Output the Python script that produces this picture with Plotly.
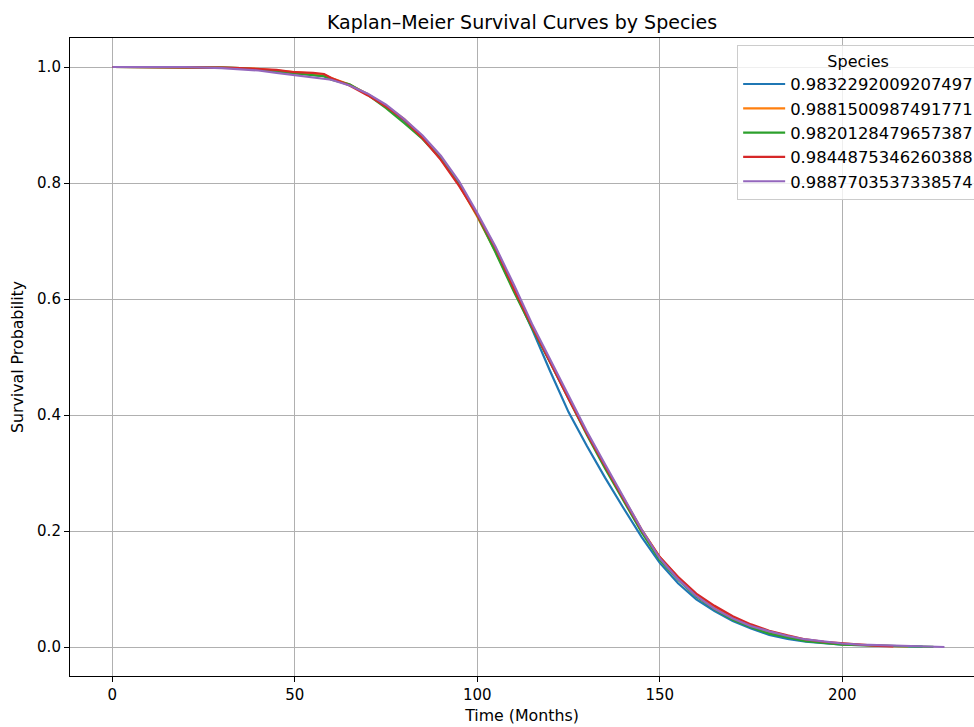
import plotly.graph_objects as go

# Kaplan-Meier survival estimates sampled along the time axis (months)
months = [0, 10, 20, 30, 35, 40, 45, 50, 55, 58, 60, 65, 70, 75, 80, 85, 90, 95,
          100, 105, 110, 115, 120, 125, 130, 135, 140, 145, 150, 155, 160, 165,
          170, 175, 180, 185, 190, 195, 200, 205, 210, 214, 218, 222, 225, 228]

species_labels = ["0.9832292009207497", "0.9881500987491771", "0.9820128479657387",
                  "0.9844875346260388", "0.9887703537338574"]

surv_blue = [1.0, 1.0, 1.0, 0.999, 0.998, 0.996, 0.993, 0.990, 0.987, 0.984, 0.980, 0.969,
             0.953, 0.933, 0.907, 0.877, 0.843, 0.798, 0.745, 0.686, 0.617, 0.548, 0.475,
             0.405, 0.347, 0.292, 0.240, 0.190, 0.145, 0.110, 0.082, 0.062, 0.045, 0.032,
             0.021, 0.014, 0.009, 0.006, 0.004, 0.003, 0.002, 0.0015, 0.001, 0.0005, None, None]
surv_orange = [1.0, 1.0, 1.0, 0.999, 0.998, 0.997, 0.994, 0.991, 0.989, 0.987, 0.981, 0.970,
               0.953, 0.933, 0.910, 0.879, 0.842, 0.797, 0.742, 0.682, 0.615, 0.552, 0.492,
               0.430, 0.370, 0.312, 0.258, 0.203, 0.155, 0.120, 0.090, 0.069, 0.051, 0.037,
               0.026, 0.018, 0.012, 0.008, 0.005, 0.0035, 0.002, 0.0015, 0.001, None, None, None]
surv_green = [1.0, 1.0, 1.0, 0.999, 0.998, 0.996, 0.993, 0.989, 0.986, 0.984, 0.978, 0.970,
              0.952, 0.929, 0.903, 0.876, 0.842, 0.798, 0.744, 0.680, 0.613, 0.550, 0.490,
              0.428, 0.366, 0.308, 0.253, 0.198, 0.150, 0.116, 0.087, 0.065, 0.047, 0.034,
              0.023, 0.016, 0.010, 0.007, 0.004, 0.003, 0.002, 0.0015, 0.001, 0.0007, 0.0003, None]
surv_red = [1.0, 1.0, 1.0, 0.999, 0.998, 0.997, 0.995, 0.991, 0.990, 0.988, 0.981, 0.968,
            0.951, 0.932, 0.909, 0.877, 0.840, 0.795, 0.745, 0.688, 0.618, 0.553, 0.490,
            0.428, 0.368, 0.311, 0.256, 0.202, 0.155, 0.121, 0.092, 0.071, 0.053, 0.039,
            0.028, 0.020, 0.013, 0.009, 0.006, 0.004, 0.002, 0.001, None, None, None, None]
surv_purple = [1.0, 1.0, 1.0, 0.998, 0.996, 0.994, 0.990, 0.986, 0.983, 0.980, 0.978, 0.968,
               0.954, 0.935, 0.910, 0.882, 0.847, 0.803, 0.748, 0.690, 0.625, 0.557, 0.495,
               0.433, 0.372, 0.315, 0.260, 0.203, 0.153, 0.117, 0.088, 0.066, 0.049, 0.036,
               0.027, 0.019, 0.013, 0.009, 0.006, 0.004, 0.003, 0.002, 0.0015, 0.001, 0.0005, 0.0]

series = [surv_blue, surv_orange, surv_green, surv_red, surv_purple]
colors = ["#1f77b4", "#ff7f0e", "#2ca02c", "#d62728", "#9467bd"]

FONT = "DejaVu Sans"

fig = go.Figure()
for label, surv, col in zip(species_labels, series, colors):
    fig.add_trace(go.Scatter(
        x=months, y=surv, mode="lines", name=label,
        line=dict(color=col, width=2.2), connectgaps=False,
    ))

axis_common = dict(
    showgrid=True, gridcolor="#b0b0b0", gridwidth=1.1,
    showline=True, linecolor="black", linewidth=1.1,
    ticks="outside", ticklen=5, tickwidth=1.1, tickcolor="black",
    tickfont=dict(family=FONT, size=15, color="black"),
    zeroline=False,
)

fig.update_layout(
    width=974, height=727,
    margin=dict(l=70, r=0, t=38, b=51, autoexpand=False),
    paper_bgcolor="white", plot_bgcolor="white",
    font=dict(family=FONT, color="black"),
    title=dict(text="Kaplan–Meier Survival Curves by Species",
               x=0.536, xanchor="center", y=1 - 22 / 727, yanchor="middle",
               font=dict(family=FONT, size=19, color="black")),
    xaxis=dict(axis_common, range=[-11.6, 236.1], tickvals=[0, 50, 100, 150, 200],
               mirror=True, automargin=False,
               title=dict(text="Time (Months)", standoff=6,
                          font=dict(family=FONT, size=15.8, color="black"))),
    yaxis=dict(axis_common, range=[-0.05, 1.05], automargin=False,
               tickvals=[0.0, 0.2, 0.4, 0.6, 0.8, 1.0], ticktext=["0.0", "0.2", "0.4", "0.6", "0.8", "1.0"],
               title=dict(text="Survival Probability", standoff=9,
                          font=dict(family=FONT, size=15.8, color="black"))),
    legend=dict(
        title=dict(text="Species", side="top center", font=dict(family=FONT, size=16, color="black")),
        x=0.738, xanchor="left", y=0.989, yanchor="top",
        bgcolor="rgba(255,255,255,0.8)", bordercolor="#cccccc", borderwidth=1,
        font=dict(family=FONT, size=16.4, color="black"),
        itemwidth=42,
    ),
)

fig.write_html("out.html")
